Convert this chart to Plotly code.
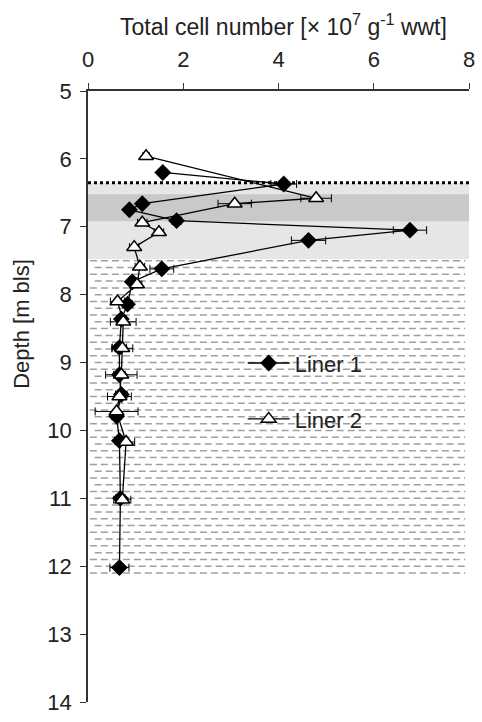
import plotly.graph_objects as go

# ---- data ----
liner1_depth = [6.20, 6.37, 6.66, 6.75, 6.91, 7.05, 7.20, 7.62, 7.81, 8.14, 8.36, 8.78, 9.18, 9.47, 9.79, 10.15, 11.00, 12.02]
liner1_cells = [1.57, 4.11, 1.14, 0.87, 1.86, 6.76, 4.63, 1.55, 0.93, 0.83, 0.70, 0.66, 0.66, 0.70, 0.60, 0.66, 0.68, 0.66]
liner1_err = [0.08, 0.27, 0.08, 0.08, 0.10, 0.35, 0.36, 0.25, 0.08, 0.10, 0.10, 0.15, 0.12, 0.12, 0.10, 0.10, 0.10, 0.20]

liner2_depth = [5.96, 6.58, 6.66, 6.94, 7.08, 7.30, 7.59, 7.85, 8.10, 8.40, 8.79, 9.18, 9.50, 9.72, 10.17, 11.02]
liner2_cells = [1.22, 4.79, 3.08, 1.14, 1.49, 0.97, 1.09, 1.03, 0.62, 0.74, 0.72, 0.70, 0.66, 0.60, 0.80, 0.72]
liner2_err = [0.07, 0.32, 0.35, 0.10, 0.10, 0.10, 0.10, 0.10, 0.15, 0.27, 0.22, 0.33, 0.25, 0.45, 0.18, 0.18]

x_ticks = [0, 2, 4, 6, 8]
y_ticks = [5, 6, 7, 8, 9, 10, 11, 12, 13, 14]

# zones (depth, m bls)
water_table = 6.35
light_zone = [6.35, 7.48]
dark_zone = [6.52, 6.92]
hatch_zone = [7.5, 12.1]

FONT = "Liberation Sans, Arial, sans-serif"
FS = 22

fig = go.Figure()

fig.add_trace(go.Scatter(
    x=liner1_cells, y=liner1_depth, name="Liner 1", mode="lines+markers",
    line=dict(color="black", width=1.3),
    marker=dict(symbol="diamond", size=13, color="black"),
    error_x=dict(type="data", array=liner1_err, color="black", thickness=1, width=4),
    legend="legend", showlegend=True,
))
fig.add_trace(go.Scatter(
    x=liner2_cells, y=liner2_depth, name="Liner 2", mode="lines+markers",
    line=dict(color="black", width=1.3),
    marker=dict(symbol="triangle-up", size=13, color="white", line=dict(color="black", width=1.5)),
    error_x=dict(type="data", array=liner2_err, color="black", thickness=1, width=4),
    legend="legend2", showlegend=True,
))

shapes = []
shapes.append(dict(type="rect", xref="x", yref="y", x0=0, x1=8, y0=light_zone[0], y1=light_zone[1],
                   fillcolor="#e6e6e6", line=dict(width=0), layer="below"))
shapes.append(dict(type="rect", xref="x", yref="y", x0=0, x1=8, y0=dark_zone[0], y1=dark_zone[1],
                   fillcolor="#c9c9c9", line=dict(width=0), layer="below"))
shapes.append(dict(type="line", xref="x", yref="y", x0=0, x1=8, y0=water_table, y1=water_table,
                   line=dict(color="black", width=3, dash="dot"), layer="below"))
n_rows = int(round((hatch_zone[1] - hatch_zone[0]) / 0.1)) + 1
for i in range(n_rows):
    yy = hatch_zone[0] + i * 0.1
    off = 0.04 if i % 2 == 0 else 0.14
    shapes.append(dict(type="line", xref="x", yref="y", x0=off, x1=7.92, y0=yy, y1=yy,
                       line=dict(color="#a0a0a0", width=1.5, dash="7px,4px"), layer="below"))

fig.update_layout(
    width=482, height=722,
    margin=dict(l=88, r=7, t=91, b=9),
    paper_bgcolor="white", plot_bgcolor="white",
    font=dict(family=FONT, size=FS, color="#222"),
    showlegend=True,
    shapes=shapes,
    xaxis=dict(side="top", range=[0, 8], tickvals=x_ticks, ticks="outside", ticklen=6,
               tickcolor="#333", showline=True, linecolor="#333", linewidth=1.5,
               showgrid=False, zeroline=False, ticklabelstandoff=7,
               ticklabeloverflow="allow",
               tickfont=dict(size=FS, family=FONT, color="#222")),
    yaxis=dict(range=[14, 5], tickvals=y_ticks, ticks="outside", ticklen=6,
               tickcolor="#333", showline=True, linecolor="#333", linewidth=1.5,
               showgrid=False, zeroline=False, ticklabelstandoff=4,
               ticklabeloverflow="allow",
               tickfont=dict(size=FS, family=FONT, color="#222")),
    legend=dict(x=0.406, y=0.5545, xanchor="left", yanchor="middle", bgcolor="rgba(0,0,0,0)",
                font=dict(size=FS, family=FONT, color="#222"), itemwidth=42),
    legend2=dict(x=0.406, y=0.463, xanchor="left", yanchor="middle", bgcolor="rgba(0,0,0,0)",
                 font=dict(size=FS, family=FONT, color="#222"), itemwidth=42),
    annotations=[
        dict(text="Total cell number [× 10<sup>7</sup> g<sup>-1</sup> wwt]", xref="paper", yref="paper",
             x=0.514, y=1, yshift=66, xanchor="center", yanchor="middle", showarrow=False,
             font=dict(size=23, family=FONT, color="#222")),
        dict(text="Depth [m bls]", xref="paper", yref="paper", x=0, xshift=-66, y=0.619,
             xanchor="center", yanchor="middle", textangle=-90, showarrow=False,
             font=dict(size=FS, family=FONT, color="#222")),
    ],
)

fig.write_html("out.html")
